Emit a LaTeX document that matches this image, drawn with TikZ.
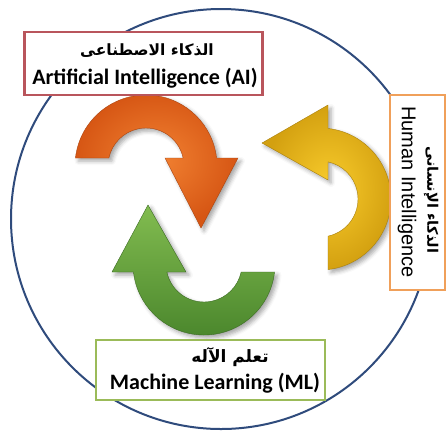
\documentclass[tikz,border=0pt]{standalone}
\usepackage{fontspec}
\usetikzlibrary{shadows.blur}
\TeXXeTstate=1
\newfontfamily\arabicfont[Script=Arabic]{DejaVu Sans}
\newfontfamily\carlito{Carlito}
\newfontfamily\lsans{Liberation Sans}
\definecolor{ringblue}{HTML}{2F4B7C}
\definecolor{aired}{HTML}{B9555C}
\definecolor{hiorange}{HTML}{F0A05A}
\definecolor{mlgreen}{HTML}{9BBB59}
\definecolor{orL}{HTML}{F28232}
\definecolor{orD}{HTML}{D65614}
\definecolor{grL}{HTML}{82BC50}
\definecolor{grD}{HTML}{4A862C}
\definecolor{yeL}{HTML}{F9CC2C}
\definecolor{yeD}{HTML}{D3A010}
\tikzset{
  box/.style={draw, line width=2.5pt, fill=white, inner sep=0pt},
  entext/.style={font=\carlito\bfseries\fontsize{22}{24}\selectfont, inner sep=0pt},
  artext/.style={font=\arabicfont\bfseries\fontsize{15.5}{18}\selectfont, inner sep=0pt},
  arrowshape/.style={draw=#1!80!black, line width=0.4pt,
    blur shadow={shadow xshift=3pt, shadow yshift=-3pt, shadow opacity=35, shadow blur radius=4pt}},
}
\begin{document}
\begin{tikzpicture}[x=1pt, y=-1pt]
\useasboundingbox (0,0) rectangle (446,432);
% ring
\draw[ringblue, line width=2pt] (221,219) circle[radius=210];
% orange arrow (top, pointing down)
\path[arrowshape=orD, shading=radial, inner color=orL, outer color=orD]
  (75.45,158) arc[start angle=186.47, end angle=353.53, radius=71]
  -- (238,158) -- (201,228) -- (165,158) -- (183.15,158)
  arc[start angle=347.85, end angle=192.15, radius=38] -- cycle;
% green arrow (bottom, pointing up)
\path[arrowshape=grD, top color=grL, bottom color=grD]
  (274.55,272) arc[start angle=6.47, end angle=173.53, radius=71]
  -- (112,272) -- (148,205) -- (186,272) -- (166.85,272)
  arc[start angle=167.85, end angle=12.15, radius=38] -- cycle;
% yellow arrow (right, pointing left)
\path[arrowshape=yeD, shading=radial, inner color=yeL, outer color=yeD]
  (328,128.45) arc[start angle=-83.53, end angle=83.53, radius=71]
  -- (328,236.15) arc[start angle=77.85, end angle=-77.85, radius=38]
  -- (328,180) -- (262,143) -- (328,105) -- cycle;
% boxes
\node[box, draw=aired, minimum width=238pt, minimum height=63pt] (aibox) at (143.5,63.5) {};
\node[artext] (aiar) at (147,51) {\beginR الذكاء الاصطناعى\endR};
\node[entext] (aien) at (145,78) {Artificial Intelligence (AI)};
\node[box, draw=mlgreen, minimum width=229pt, minimum height=60pt] (mlbox) at (210.5,370) {};
\node[artext, font=\arabicfont\bfseries\fontsize{17}{19}\selectfont] (mlar) at (230,357) {\beginR تعلم الآله\endR};
\node[entext] (mlen) at (215,383) {Machine Learning (ML)};
\node[box, draw=hiorange, minimum width=55pt, minimum height=195pt] (hibox) at (417.5,192.5) {};
\node[font=\lsans\fontsize{20}{22}\selectfont, inner sep=0pt, rotate=-90] (hien) at (407,192) {Human Intelligence};
\node[artext, font=\arabicfont\bfseries\fontsize{14.5}{17}\selectfont, rotate=-90] (hiar) at (431,200) {\beginR الذكاء الإنسانى\endR};
\end{tikzpicture}
\end{document}
